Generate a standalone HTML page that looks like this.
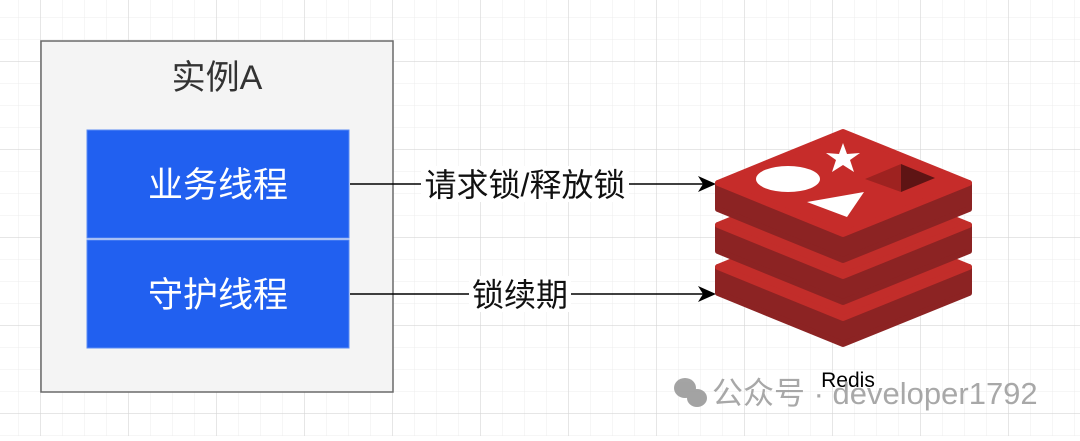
<!DOCTYPE html>
<html><head><meta charset="utf-8"><style>
html,body{margin:0;padding:0;background:#fff;}
body{width:1080px;height:436px;overflow:hidden;}
text{font-family:"Liberation Sans","Noto Sans CJK SC",sans-serif;}
</style></head><body>
<svg width="1080" height="436" viewBox="0 0 1080 436" xmlns="http://www.w3.org/2000/svg">
<defs>
<pattern id="minor" width="22" height="22" patternUnits="userSpaceOnUse" x="18" y="17">
<path d="M0 0H22M0 0V22" stroke="#ececec" stroke-width="1" fill="none"/>
</pattern>
<pattern id="major" width="88" height="88" patternUnits="userSpaceOnUse" x="40" y="61">
<path d="M0 0H88M0 0V88" stroke="#d6d6d6" stroke-width="1.2" fill="none"/>
</pattern>
</defs>
<rect width="1080" height="436" fill="#fff"/>
<rect width="1080" height="436" fill="url(#minor)"/>
<rect width="1080" height="436" fill="url(#major)"/>

<rect x="41" y="41" width="352" height="351" fill="#f4f4f4" stroke="#6a6a6a" stroke-width="1.5"/>
<text x="217" y="89" font-size="34" text-anchor="middle" fill="#333">实例A</text>
<rect x="87" y="130" width="262" height="108" fill="#2160f0" stroke="#5b8cf5"/>
<text x="218" y="197" font-size="35" text-anchor="middle" fill="#fff">业务线程</text>
<rect x="87" y="240" width="262" height="108" fill="#2160f0" stroke="#5b8cf5"/>
<text x="218" y="307" font-size="35" text-anchor="middle" fill="#fff">守护线程</text>

<line x1="350" y1="184" x2="705" y2="184" stroke="#000" stroke-width="1.5"/>
<polygon points="716,184 698,176 703,184 698,192" fill="#000"/>
<rect x="421" y="166" width="208" height="36" fill="#fff"/>
<text x="525" y="196" font-size="32" text-anchor="middle" fill="#111">请求锁/释放锁</text>
<line x1="350" y1="294" x2="705" y2="294" stroke="#000" stroke-width="1.5"/>
<polygon points="716,294 698,286 703,294 698,302" fill="#000"/>
<rect x="469" y="276" width="102" height="36" fill="#fff"/>
<text x="520" y="306" font-size="32" text-anchor="middle" fill="#111">锁续期</text>

<g stroke-linejoin="round" stroke-width="6">
<polygon points="718,267 843,318 969,267 969,293 843,344 718,293" fill="#8c2323" stroke="#8c2323"/>
<polygon points="718,267 843,216 969,267 843,318" fill="#c22d2a" stroke="#c22d2a"/>
<polygon points="718,225 843,276 969,225 969,251 843,302 718,251" fill="#8c2323" stroke="#8c2323"/>
<polygon points="718,225 843,174 969,225 843,276" fill="#c22d2a" stroke="#c22d2a"/>
<polygon points="718,183 843,234 969,183 969,209 843,260 718,209" fill="#8c2323" stroke="#8c2323"/>
<polygon points="718,183 843,132 969,183 843,234" fill="#c62c2a" stroke="#c62c2a"/>
</g>
<ellipse cx="788" cy="179" rx="32" ry="13" fill="#fff"/>
<polygon points="843,143 847,154 860,153 850,160 854,172 843,165 832,172 836,160 826,153 839,154" fill="#fff"/>
<polygon points="807,202 864,192 847,217" fill="#fff"/>
<polygon points="865,179 901,164 901,192" fill="#9e2220"/>
<polygon points="901,164 935,178 901,192" fill="#5e1414"/>

<text x="848" y="387" font-size="21" text-anchor="middle" fill="#000">Redis</text>

<g fill="#9a9a9a" opacity="0.9">
<ellipse cx="685" cy="388" rx="11" ry="10"/>
<ellipse cx="697" cy="398" rx="10" ry="9"/>
</g>
<text x="712" y="404" font-size="31" fill="#9a9a9a" opacity="0.85">公众号 · developer1792</text>
</svg>
</body></html>
